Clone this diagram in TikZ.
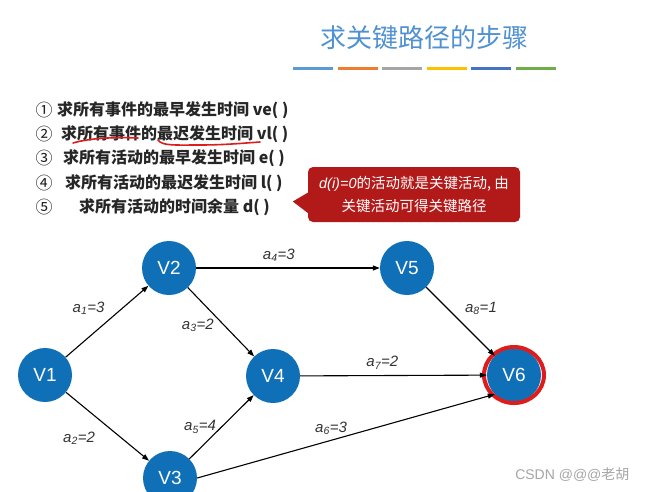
\documentclass[tikz,border=0pt]{standalone}
\usepackage{fontspec}
\setmainfont{Liberation Sans}
\newfontfamily\cjk{Noto Sans CJK SC}
\usetikzlibrary{arrows.meta,positioning}
\definecolor{titleblue}{RGB}{80,145,210}
\definecolor{nodeblue}{RGB}{16,112,183}
\definecolor{callred}{RGB}{178,26,26}
\definecolor{penred}{RGB}{222,28,28}
\definecolor{barA}{RGB}{91,155,213}
\definecolor{barB}{RGB}{237,125,49}
\definecolor{barC}{RGB}{165,165,165}
\definecolor{barD}{RGB}{255,192,0}
\definecolor{barE}{RGB}{68,114,196}
\definecolor{barF}{RGB}{112,173,71}
\newcommand{\actlabel}[2]{a\textsubscript{#1}=#2}

\begin{document}
\begin{tikzpicture}[x=1pt,y=-1pt,
vertex/.style={circle, fill=nodeblue, minimum size=54pt, inner sep=0pt, text=white, font=\fontsize{19}{19}\selectfont},
arc/.style={-{Triangle[length=7pt,width=5pt]}, line width=1.1pt},
lbl/.style={font=\fontsize{15}{15}\selectfont\itshape, text=black!80, inner sep=2pt},
item/.style={anchor=west, font=\cjk\bfseries\fontsize{16}{16}\selectfont, text=black!85, inner sep=0pt},
num/.style={font=\cjk\fontsize{17}{17}\selectfont, text=black!88, inner sep=0pt},
note/.style={fill=callred, rounded corners=5pt, text=white, align=center, font=\cjk\fontsize{14.5}{23}\selectfont, minimum width=212pt, minimum height=55pt, inner sep=0pt},
scribble/.style={draw=penred, line width=1.6pt, line cap=round}
]
\clip (0,0) rectangle (647,491);
\fill[white] (0,0) rectangle (647,491);

% title and colour bars
\node[text=titleblue, font=\cjk\fontsize{26}{26}\selectfont] (title) at (424,38) {求关键路径的步骤};
\foreach \c [count=\i] in {barA,barB,barC,barD,barE,barF}
  \fill[\c] ({293+44.5*(\i-1)},66.5) rectangle ++(40,3.5);

% steps
\node[num] (n1) at (44,110) {①};
\node[num] (n2) at (44,134.5) {②};
\node[num] (n3) at (44,158) {③};
\node[num] (n4) at (44,183) {④};
\node[num] (n5) at (44,207) {⑤};
\node[item] (s1) at (57,110) {求所有事件的最早发生时间 ve( )};
\node[item] (s2) at (61,134.5) {求所有事件的最迟发生时间 vl( )};
\node[item] (s3) at (63,158) {求所有活动的最早发生时间 e( )};
\node[item] (s4) at (65,183) {求所有活动的最迟发生时间 l( )};
\node[item] (s5) at (79,207) {求所有活动的时间余量 d( )};
\draw[scribble] (73,143) .. controls (90,138) and (115,137) .. (138,138);
\draw[scribble] (158,140) .. controls (162,146) and (175,145) .. (200,145) .. controls (225,145) and (245,143) .. (260,142);

% callout
\node[note] (note) at (414,194.5) {{\normalfont\itshape d(i)=0}的活动就是关键活动, 由\\关键活动可得关键路径};
\fill[callred] ([xshift=2pt,yshift=3pt]note.west) -- ++(-17,10) -- ([xshift=2pt,yshift=-20pt]note.west) -- cycle;

% graph
\node[vertex] (V1) at (45,375) {V1};
\node[vertex] (V2) at (169,268) {V2};
\node[vertex] (V3) at (170,478) {V3};
\node[vertex] (V4) at (273,376) {V4};
\node[vertex] (V5) at (407,268) {V5};
\node[vertex] (V6) at (514,375) {V6};
\draw[penred, line width=4pt] (V6) ellipse[x radius=30, y radius=28];

\draw[arc] (V1) -- node[lbl, above left=4pt and 0pt] {\actlabel{1}{3}} (V2);
\draw[arc] (V1) -- node[lbl, below left=3pt and 10pt] {\actlabel{2}{2}} (V3);
\draw[arc] (V2) -- node[lbl, pos=0.55, left=8pt] {\actlabel{3}{2}} (V4);
\draw[arc] (V2) -- node[lbl, pos=0.45, above=4pt] {\actlabel{4}{3}} (V5);
\draw[arc] (V3) -- node[lbl, left=3pt] {\actlabel{5}{4}} (V4);
\draw[arc] (V3.east) -- node[lbl, pos=0.45, above=3pt] {\actlabel{6}{3}} (V6.south west);
\draw[arc] (V4) -- node[lbl, pos=0.44, above=4pt] {\actlabel{7}{2}} (V6);
\draw[arc] (V5) -- node[lbl, above right=4pt and 2pt] {\actlabel{8}{1}} (V6);

\node[anchor=east, text=black!35, font=\fontsize{14}{14}\selectfont] (mark1) at (633,475) {CSDN @@@{\cjk 老胡}};
\end{tikzpicture}
\end{document}
